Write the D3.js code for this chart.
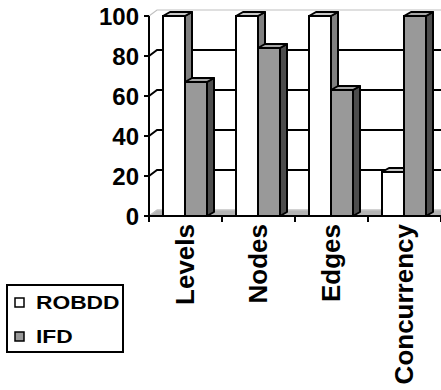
<!DOCTYPE html>
<html>
<head>
<meta charset="utf-8">
<script src="https://cdn.jsdelivr.net/npm/d3@7/dist/d3.min.js"></script>
<style>
  html, body { margin: 0; padding: 0; background: #fff; }
  svg { display: block; }
  text { font-family: "Liberation Sans", Arial, sans-serif; font-weight: bold; fill: #000; }
</style>
</head>
<body>
<svg id="chart" width="441" height="390"></svg>
<script>
// Chart data
const categories = ["Levels", "Nodes", "Edges", "Concurrency"];
const seriesNames = ["ROBDD", "IFD"];
const robddValues = [100, 100, 100, 22];
const ifdValues = [67, 84, 63, 100];
const yTicks = [0, 20, 40, 60, 80, 100];

const seriesValues = [robddValues, ifdValues];
const faceFill = [
  { front: "#ffffff", top: "#c8c8c8", side: "#808080" },
  { front: "#999999", top: "#a6a6a6", side: "#4d4d4d" }
];

const svg = d3.select("#chart");

// Front plane scales
const x = d3.scaleBand().domain(categories).range([149, 441]).paddingInner(0).paddingOuter(0);
const xs = d3.scaleBand().domain(seriesNames).range([14, 58]).padding(0);
const y = d3.scaleLinear().domain([0, 100]).range([216, 16]);

// Wall depth and bar depth offsets
const wallDX = 8, wallDY = -6;
const barDX = 7, barDY = -4;

const line = d3.line();

// Floor slab
svg.append("path")
  .attr("d", line([[x.range()[0], y(0)], [x.range()[1], y(0)],
                   [x.range()[1] + wallDX, y(0) + wallDY], [x.range()[0] + wallDX, y(0) + wallDY]]) + "Z")
  .attr("fill", "#b4b4b4").attr("stroke", "#c8c8c8").attr("stroke-width", 1);

// Back wall top and floor edges (light)
[0, 100].forEach(v => {
  svg.append("path")
    .attr("d", line([[x.range()[0], y(v)], [x.range()[0] + wallDX, y(v) + wallDY], [x.range()[1] + wallDX, y(v) + wallDY]]))
    .attr("fill", "none").attr("stroke", "#c0c0c0").attr("stroke-width", 1.2);
});

// Gridlines along side wall and back wall
yTicks.filter(v => v > 0 && v < 100).forEach(v => {
  svg.append("path")
    .attr("d", line([[x.range()[0], y(v)], [x.range()[0] + wallDX, y(v) + wallDY], [x.range()[1] + wallDX, y(v) + wallDY]]))
    .attr("fill", "none").attr("stroke", "#000").attr("stroke-width", 2);
});

// 3D columns
categories.forEach((cat, i) => {
  seriesNames.forEach((s, j) => {
    const v = seriesValues[j][i];
    const x0 = x(cat) + xs(s);
    const x1 = x0 + xs.bandwidth();
    const yt = y(v), yb = y(0);
    const g = svg.append("g");
    g.append("path")
      .attr("d", line([[x1, yt], [x1 + barDX, yt + barDY], [x1 + barDX, yb + barDY], [x1, yb]]) + "Z")
      .attr("fill", faceFill[j].side).attr("stroke", "#000").attr("stroke-width", 2).attr("stroke-linejoin", "round");
    g.append("path")
      .attr("d", line([[x0, yt], [x1, yt], [x1 + barDX, yt + barDY], [x0 + barDX, yt + barDY]]) + "Z")
      .attr("fill", faceFill[j].top).attr("stroke", "#000").attr("stroke-width", 2).attr("stroke-linejoin", "round");
    g.append("rect")
      .attr("x", x0).attr("y", yt).attr("width", x1 - x0).attr("height", yb - yt)
      .attr("fill", faceFill[j].front).attr("stroke", "#000").attr("stroke-width", 2);
  });
});

// Y axis
svg.append("line").attr("x1", 149).attr("x2", 149).attr("y1", y(100)).attr("y2", 222)
  .attr("stroke", "#000").attr("stroke-width", 2);
yTicks.forEach(v => {
  svg.append("line").attr("x1", 144).attr("x2", 149).attr("y1", y(v)).attr("y2", y(v))
    .attr("stroke", "#000").attr("stroke-width", 2);
  svg.append("text").attr("x", 139).attr("y", y(v) + 9).attr("text-anchor", "end")
    .attr("font-size", 24).text(v);
});

// X axis
svg.append("line").attr("x1", 144).attr("x2", 441).attr("y1", y(0)).attr("y2", y(0))
  .attr("stroke", "#000").attr("stroke-width", 2);
categories.forEach(cat => {
  const xe = x(cat) + x.bandwidth();
  svg.append("line").attr("x1", xe).attr("x2", xe).attr("y1", y(0)).attr("y2", 222)
    .attr("stroke", "#000").attr("stroke-width", 2);
  const cx = x(cat) + x.bandwidth() / 2 + 8;
  svg.append("text")
    .attr("transform", `translate(${cx},224) rotate(-90)`)
    .attr("text-anchor", "end").attr("font-size", 26).text(cat);
});

// Legend
const legend = svg.append("g");
legend.append("rect").attr("x", 7).attr("y", 285).attr("width", 116).attr("height", 67)
  .attr("fill", "#fff").attr("stroke", "#000").attr("stroke-width", 2);
seriesNames.forEach((s, j) => {
  const ly = 302 + j * 34;
  legend.append("rect").attr("x", 15).attr("y", ly - 4).attr("width", 9).attr("height", 9)
    .attr("fill", faceFill[j].front).attr("stroke", "#000").attr("stroke-width", 1.5);
  legend.append("text").attr("transform", `translate(36,${ly + 7}) scale(1.2,1)`)
    .attr("font-size", 19).text(s);
});
</script>
</body>
</html>
